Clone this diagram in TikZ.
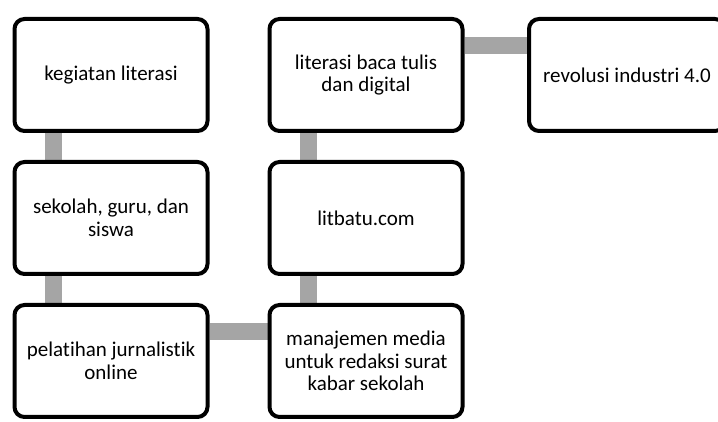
\documentclass[tikz,border=0pt]{standalone}
\usepackage{fontspec}
\setmainfont{Carlito}[RawFeature={-liga;-clig;-dlig}]
\usepackage{xcolor}
\usepackage{tikz}
\usetikzlibrary{positioning,calc,backgrounds}
\definecolor{linkgray}{HTML}{A5A5A5}

\begin{document}
\begin{tikzpicture}[
    font=\fontsize{21}{22.5}\selectfont,
    node distance=27pt and 58pt,
    block/.style={draw=black, line width=4pt, rounded corners=10pt, fill=white,
      align=center, minimum width=193pt, minimum height=112pt, inner sep=4pt},
    link/.style={draw=linkgray, line width=17pt}
  ]
    \useasboundingbox (0,0) rectangle (718pt,422pt);
    \clip (0,0) rectangle (718pt,422pt);

    \node[block] (kegiatan) at (111pt,347pt) {kegiatan literasi};
    \node[block, below=of kegiatan] (sekolah) {sekolah, guru, dan\\siswa};
    \node[block, below=of sekolah] (pelatihan) {pelatihan jurnalistik\\online};
    \node[block, right=of kegiatan] (literasi) {literasi baca tulis\\dan digital};
    \node[block, below=of literasi] (litbatu) {litbatu.com};
    \node[block, below=of litbatu] (manajemen) {manajemen media\\untuk redaksi surat\\kabar sekolah};
    \node[block, right=62.5pt of literasi, minimum width=196pt] (revolusi) {revolusi industri 4.0};

    \begin{scope}[on background layer]
      \draw[link] ($(kegiatan.south west)!0.21!(kegiatan.south east)$) -- ($(sekolah.north west)!0.21!(sekolah.north east)$);
      \draw[link] ($(sekolah.south west)!0.21!(sekolah.south east)$) -- ($(pelatihan.north west)!0.21!(pelatihan.north east)$);
      \draw[link] ($(pelatihan.north east)!0.25!(pelatihan.south east)$) -- ($(manajemen.north west)!0.25!(manajemen.south west)$);
      \draw[link] ($(manajemen.north west)!0.21!(manajemen.north east)$) -- ($(litbatu.south west)!0.21!(litbatu.south east)$);
      \draw[link] ($(litbatu.north west)!0.21!(litbatu.north east)$) -- ($(literasi.south west)!0.21!(literasi.south east)$);
      \draw[link] ($(literasi.north east)!0.25!(literasi.south east)$) -- ($(revolusi.north west)!0.25!(revolusi.south west)$);
    \end{scope}
  \end{tikzpicture}
\end{document}
